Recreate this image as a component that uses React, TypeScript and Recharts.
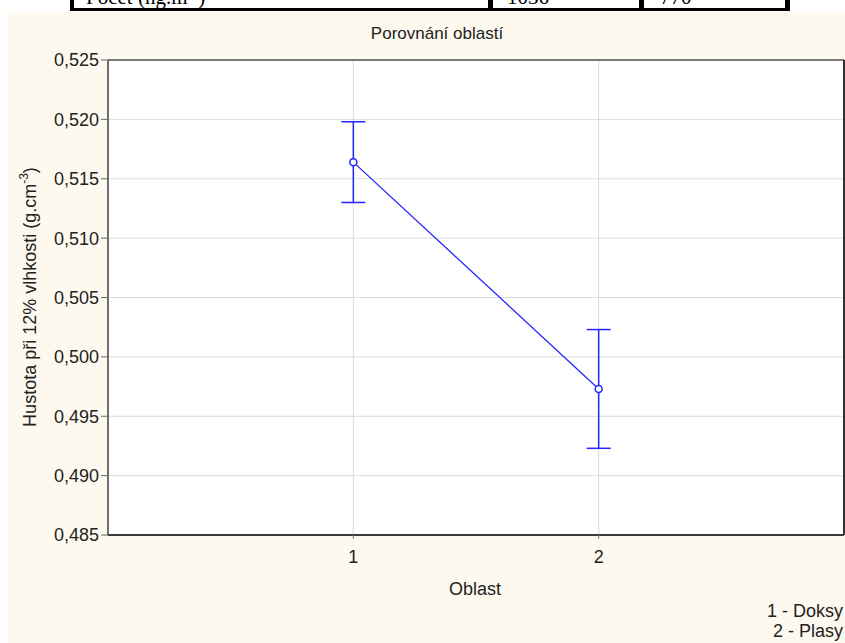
import React from 'react';
import { LineChart, Line, XAxis, YAxis, CartesianGrid, ErrorBar, ReferenceLine } from 'recharts';

// oblasti (kategorie na ose x)
const regions = [1, 2];
const regionNames = ['Doksy', 'Plasy'];

// průměrná hustota při 12% vlhkosti a polovina intervalu spolehlivosti
const meanDensity = [0.5164, 0.4973];
const densityError = [0.0034, 0.005];

const densityTicks = [0.485, 0.49, 0.495, 0.5, 0.505, 0.51, 0.515, 0.52, 0.525];

// hodnoty z tabulky nad grafem
const tableRow = ['Počet (ng.m', '1036', '770'];

const data = regions.map((r, i) => ({ region: r, mean: meanDensity[i], err: densityError[i] }));

const sans = '"Liberation Sans", Arial, sans-serif';
const serif = '"Liberation Serif", "Times New Roman", serif';
const blue = '#2424ff';
const textColor = '#222';

const fmt = (v: number) => v.toFixed(3).replace('.', ',');

export default function App() {
  return (
    <div style={{ position: 'absolute', left: 0, top: 0, width: 845, height: 643, overflow: 'hidden', background: '#fff' }}>
      {/* zbytek tabulky nad grafem */}
      <svg width={845} height={12} style={{ position: 'absolute', left: 0, top: 0 }}>
        <text x={86} y={4} fontFamily={serif} fontSize={21} fill="#000">
          {tableRow[0]}
          <tspan fontSize={13} dy={-8}>-3</tspan>
          <tspan dy={8}>)</tspan>
        </text>
        <text x={507} y={4} fontFamily={serif} fontSize={21} fill="#000">{tableRow[1]}</text>
        <text x={660} y={4} fontFamily={serif} fontSize={21} fill="#000">{tableRow[2]}</text>
        <rect x={70} y={0} width={4} height={11} fill="#000" />
        <rect x={488} y={0} width={5} height={11} fill="#000" />
        <rect x={639} y={0} width={5} height={11} fill="#000" />
        <rect x={785} y={0} width={5} height={11} fill="#000" />
        <rect x={70} y={8} width={720} height={3} fill="#000" />
      </svg>

      <div style={{ position: 'absolute', left: 8, top: 12, width: 837, height: 631, background: '#fef9ef' }}>
        <LineChart width={837} height={631} data={data} margin={{ top: 48, right: 1, bottom: 0, left: 0 }}>
          <CartesianGrid stroke="#dcdcdc" fill="#fff" />
          <XAxis
            dataKey="region"
            type="number"
            domain={[0, 3]}
            ticks={regions}
            height={108}
            tickSize={4}
            tickMargin={11}
            tick={{ fill: textColor, fontSize: 18, fontFamily: sans }}
            axisLine={{ stroke: '#3a3a3a', strokeWidth: 2 }}
            tickLine={{ stroke: '#777' }}
          />
          <YAxis
            type="number"
            domain={[0.485, 0.525]}
            ticks={densityTicks}
            width={100}
            tickFormatter={fmt}
            tickSize={7}
            tickMargin={2}
            tick={{ fill: textColor, fontSize: 18, fontFamily: sans }}
            axisLine={{ stroke: '#444', strokeWidth: 1.5 }}
            tickLine={{ stroke: '#666' }}
          />
          <ReferenceLine y={0.525} stroke="#555" strokeWidth={1.5} />
          <ReferenceLine x={3} stroke="#333" strokeWidth={2} />
          <Line
            dataKey="mean"
            stroke={blue}
            strokeWidth={1.3}
            isAnimationActive={false}
            dot={{ r: 3.5, stroke: blue, strokeWidth: 1.5, fill: '#fff' }}
          >
            <ErrorBar dataKey="err" width={12} stroke={blue} strokeWidth={1.5} direction="y" isAnimationActive={false} />
          </Line>
        </LineChart>
      </div>

      {/* titulky a popisky */}
      <svg width={845} height={643} style={{ position: 'absolute', left: 0, top: 0, pointerEvents: 'none' }}>
        <text x={437} y={39} textAnchor="middle" fontFamily={sans} fontSize={17} fill={textColor}>
          Porovnání oblastí
        </text>
        <text
          transform="translate(36 297) rotate(-90)"
          textAnchor="middle"
          fontFamily={sans}
          fontSize={18}
          fill={textColor}
        >
          Hustota při 12% vlhkosti (g.cm
          <tspan fontSize={12} dy={-8}>-3</tspan>
          <tspan dy={8}>)</tspan>
        </text>
        <text x={475} y={595} textAnchor="middle" fontFamily={sans} fontSize={18} fill={textColor}>
          Oblast
        </text>
        {regionNames.map((name, i) => (
          <text key={name} x={843} y={617 + i * 20} textAnchor="end" fontFamily={sans} fontSize={18} fill={textColor}>
            {`${regions[i]} - ${name}`}
          </text>
        ))}
      </svg>
    </div>
  );
}
